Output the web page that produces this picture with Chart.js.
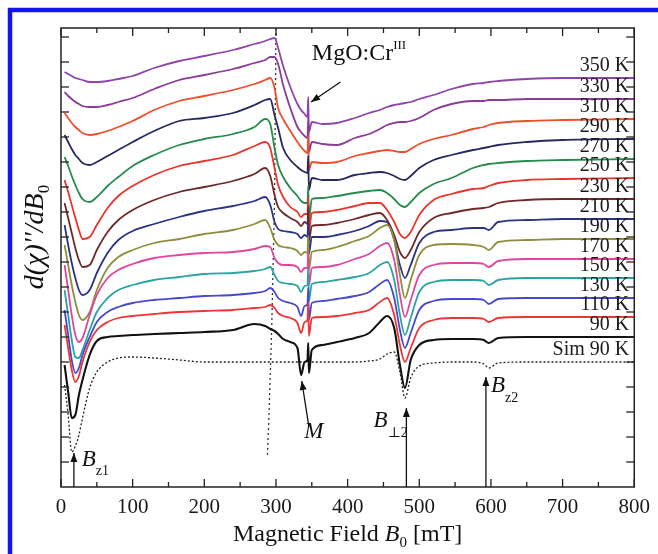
<!DOCTYPE html>
<html>
<head>
<meta charset="utf-8">
<script src="https://cdn.jsdelivr.net/npm/chart.js@4.4.1/dist/chart.umd.min.js"></script>
<style>
  html, body { margin: 0; padding: 0; background: #fff; }
  canvas { display: block; }
</style>
</head>
<body>
<canvas id="epr" width="658" height="554"></canvas>
<script>
// magnetic field grid (mT) shared by all spectra
const field = [5,10,15,20,25,30,40,50,65,80,100,130,165,200,240,270,285,292,298,303,
  310,320,330,335,340,344,345,346,350,365,385,410,430,445,455,465,473,480,488,500,
  520,545,575,590,597,610,650,700,800];

// stacked spectra, arbitrary units (already offset as plotted)
const s350 = [415,413,411,409,408,407,405,405,406,408,411,419,426,431,437,443,446,448,449,439,
  421,400,383,377,373,370,390,355,365,363,364,369,374,377,380,382,383,384,385,388,
  392,398,403,404,405,406,408,409,409];
const s330 = [395,391,388,385,383,381,380,380,382,385,389,398,407,412,418,424,427,430,430,423,
  402,379,360,355,351,349,369,335,345,343,342,349,353,358,362,364,365,365,366,369,
  377,383,386,386,387,387,388,388,388];
const s310 = [374,369,364,360,357,354,352,353,356,360,366,377,386,391,397,403,407,409,399,379,
  368,356,345,340,336,334,351,317,325,324,325,331,334,336,337,336,335,335,338,343,
  348,352,358,360,362,364,366,367,368];
const s290 = [352,345,338,332,328,324,322,325,331,337,345,356,366,369,374,382,387,388,372,359,
  339,327,320,317,315,314,331,297,309,307,307,312,314,315,314,311,308,307,311,319,
  327,332,337,339,340,342,345,347,348];
const s270 = [330,321,311,302,294,288,285,290,301,310,321,332,342,348,353,360,368,363,339,322,
  310,299,291,286,284,284,301,267,288,289,291,294,296,297,294,288,282,280,285,294,
  303,309,319,322,323,324,326,327,328];
const s250 = [307,295,282,269,257,248,250,262,279,291,301,312,321,326,332,341,345,339,319,302,
  290,280,275,270,273,273,290,256,274,275,277,281,284,284,277,265,253,249,255,272,
  287,293,298,299,301,304,307,308,309];
const s230 = [284,269,254,239,227,220,222,237,255,267,277,287,295,300,306,313,319,311,292,280,
  274,269,265,261,265,263,280,246,261,262,264,268,272,274,267,252,235,229,237,255,
  269,274,278,279,280,284,287,288,288];
const s210 = [262,242,224,209,197,192,197,214,234,247,256,263,270,276,281,286,290,282,265,258,
  256,255,253,249,252,250,267,233,250,250,252,256,261,266,265,247,222,209,222,244,
  255,257,259,259,257,265,267,268,268];
const s190 = [242,222,202,185,172,167,175,197,219,230,237,244,248,253,257,263,267,259,247,242,
  240,239,236,232,235,234,251,217,235,237,240,246,251,259,262,247,212,189,207,232,
  242,243,242,240,237,245,247,248,248];
const s170 = [222,197,172,152,145,149,172,192,209,217,223,229,232,234,235,238,241,240,229,224,
  222,222,220,215,219,219,236,202,219,220,222,228,233,241,244,227,192,170,187,212,
  222,224,224,223,220,226,228,228,228];
const s150 = [197,172,147,130,129,137,157,175,189,197,202,207,210,213,214,216,218,220,212,206,
  204,203,201,195,201,202,219,186,203,205,207,210,214,222,225,207,172,152,169,195,
  205,207,207,206,202,207,209,209,209];
const s130 = [177,152,127,114,119,132,150,165,175,180,184,187,189,191,192,194,196,199,195,189,
  186,184,180,171,181,183,199,167,184,186,188,191,195,203,207,189,157,139,154,177,
  186,188,188,187,183,188,189,189,189];
const s110 = [162,139,117,105,111,125,145,157,165,169,171,173,175,176,177,179,180,182,179,174,
  171,169,164,154,165,167,184,151,169,170,171,174,177,185,189,172,142,125,139,159,
  167,169,169,168,165,169,170,170,170];
const s90 = [122,95,69,72,92,107,132,146,150,151,152,153,154,155,157,163,161,158,156,153,
  148,145,139,112,125,127,144,114,137,142,145,149,154,165,171,159,122,99,127,142,
  147,148,148,147,144,149,150,150,150];
const sSim = [102,72,35,41,52,69,99,115,125,129,130,129,127,125,125,125,125,125,125,125,
  125,125,125,125,125,125,125,125,125,125,125,125,126,128,133,135,115,89,109,121,
  124,125,125,123,119,124,125,125,125];

// dotted guide through the ~300 mT peaks
const guideField = [300, 298, 294, 290, 288];
const guideLevel = [459, 287, 157, 67, 30];

const tempLabels = ['350 K','330 K','310 K','290 K','270 K','250 K','230 K','210 K',
  '190 K','170 K','150 K','130 K','110 K','90 K','Sim 90 K'];
const xTicks = [0,100,200,300,400,500,600,700,800];

const spectra = [s350,s330,s310,s290,s270,s250,s230,s210,s190,s170,s150,s130,s110,s90,sSim];
const colors = ['#8e44a8','#8a3c96','#ef4e2b','#26285e','#268a4c','#e8352c','#6e2a2a','#2b3484',
  '#8f8e3c','#e0479c','#2ba3a3','#4848cc','#ee3535','#111111','#222222'];

const serif = '"Liberation Serif", "DejaVu Serif", serif';

const datasets = spectra.map((s, i) => ({
  label: tempLabels[i],
  data: field.map((f, j) => ({x: f, y: s[j]})),
  borderColor: colors[i],
  borderWidth: i === 14 ? 1.3 : (i === 13 ? 2.1 : 1.8),
  borderDash: i === 14 ? [2, 2] : [],
  cubicInterpolationMode: 'monotone',
  pointRadius: 0
})).reverse();

datasets.push({
  label: 'guide',
  data: guideField.map((f, j) => ({x: f, y: guideLevel[j]})),
  borderColor: '#333',
  borderWidth: 1.3,
  borderDash: [2, 3],
  tension: 0,
  pointRadius: 0
});

function seg(ctx, x1, y1, x2, y2) {
  ctx.beginPath(); ctx.moveTo(x1, y1); ctx.lineTo(x2, y2); ctx.stroke();
}

function arrow(ctx, x1, y1, x2, y2) {
  seg(ctx, x1, y1, x2, y2);
  const a = Math.atan2(y2 - y1, x2 - x1), len = 9, half = 3.5;
  ctx.beginPath();
  ctx.moveTo(x2, y2);
  ctx.lineTo(x2 - len * Math.cos(a) + half * Math.sin(a), y2 - len * Math.sin(a) - half * Math.cos(a));
  ctx.lineTo(x2 - len * Math.cos(a) - half * Math.sin(a), y2 - len * Math.sin(a) + half * Math.cos(a));
  ctx.closePath();
  ctx.fill();
}

// draws runs of text with different fonts / vertical shifts
function rich(ctx, x, y, parts, align) {
  let w = 0;
  parts.forEach(p => { ctx.font = p.font; p.w = ctx.measureText(p.t).width; w += p.w; });
  let cx = align === 'center' ? x - w / 2 : x;
  parts.forEach(p => { ctx.font = p.font; ctx.fillText(p.t, cx, y + (p.dy || 0)); cx += p.w; });
}

const decorations = {
  id: 'decorations',
  beforeDraw(chart) {
    const c = chart.ctx;
    c.save();
    c.fillStyle = '#fff';
    c.fillRect(0, 0, chart.width, chart.height);
    c.strokeStyle = '#1414ee';
    c.lineWidth = 4.5;
    c.strokeRect(10, 10, 700, 700);
    c.restore();
  },
  afterDraw(chart) {
    const c = chart.ctx, a = chart.chartArea, x = chart.scales.x, y = chart.scales.y;
    c.save();
    c.strokeStyle = '#222';
    c.fillStyle = '#1a1a1a';
    c.lineWidth = 1.5;
    c.strokeRect(a.left, a.top, a.right - a.left, a.bottom - a.top);

    // inward ticks on all four sides
    c.lineWidth = 1.3;
    for (let v = 0; v <= 800; v += 50) {
      const px = x.getPixelForValue(v), len = v % 100 === 0 ? 8 : 5;
      seg(c, px, a.bottom, px, a.bottom - len);
      seg(c, px, a.top, px, a.top + len);
    }
    for (let v = 25; v < 459; v += 25) {
      const py = y.getPixelForValue(v);
      seg(c, a.left, py, a.left + 8, py);
      seg(c, a.right, py, a.right - 8, py);
    }

    // temperature labels just above each trace's right end
    c.textAlign = 'right';
    c.textBaseline = 'middle';
    c.font = '20px ' + serif;
    spectra.forEach((s, i) => {
      c.fillText(tempLabels[i], x.getPixelForValue(793), y.getPixelForValue(s[s.length - 1] + 12));
    });

    c.textAlign = 'left';
    c.textBaseline = 'alphabetic';
    // arrows
    c.lineWidth = 1.3;
    c.strokeStyle = '#111';
    c.fillStyle = '#111';
    const P = (f, v) => [x.getPixelForValue(f), y.getPixelForValue(v)];
    const arrows = [[18, 0, 18, 34], [482, 0, 482, 79], [593, 0, 593, 110],
      [346, 60, 336, 106], [390, 405, 349, 385]];
    arrows.forEach(r => {
      const p1 = P(r[0], r[1]), p2 = P(r[2], r[3]);
      arrow(c, p1[0], p1[1], p2[0], p2[1]);
    });

    const it = 'italic 23px ' + serif, sub = '14px ' + serif, rm = '24px ' + serif;
    let p = P(350, 427);
    rich(c, p[0], p[1], [{t: 'MgO:Cr', font: rm}, {t: 'III', font: '13px ' + serif, dy: -11}]);
    p = P(353, 49);
    rich(c, p[0], p[1], [{t: 'M', font: it}], 'center');
    p = P(29, 21);
    rich(c, p[0], p[1], [{t: 'B', font: it}, {t: 'z1', font: sub, dy: 9}]);
    p = P(436, 60);
    rich(c, p[0], p[1], [{t: 'B', font: it}, {t: '\u22a52', font: sub, dy: 10}]);
    p = P(600, 95);
    rich(c, p[0], p[1], [{t: 'B', font: it}, {t: 'z2', font: sub, dy: 10}]);

    // axis titles
    const tf = '24px ' + serif;
    rich(c, (a.left + a.right) / 2, 541, [
      {t: 'Magnetic Field ', font: tf},
      {t: 'B', font: 'italic 24px ' + serif},
      {t: '0', font: '15px ' + serif, dy: 6},
      {t: ' [mT]', font: tf}
    ], 'center');

    c.translate(43, 237);
    c.rotate(-Math.PI / 2);
    rich(c, 0, 0, [
      {t: "d(\u03c7)''/dB", font: 'italic 28px ' + serif},
      {t: '0', font: '17px ' + serif, dy: 6}
    ], 'center');
    c.restore();
  }
};

new Chart(document.getElementById('epr'), {
  type: 'line',
  data: {datasets},
  options: {
    responsive: false,
    animation: false,
    layout: {padding: {left: 61, right: 22, top: 28, bottom: 0}},
    plugins: {legend: {display: false}, tooltip: {enabled: false}},
    scales: {
      x: {
        type: 'linear',
        min: 0,
        max: 800,
        afterBuildTicks: axis => { axis.ticks = xTicks.map(v => ({value: v})); },
        ticks: {autoSkip: false, maxRotation: 0, padding: 8, color: '#1a1a1a',
          font: {family: serif, size: 21}},
        grid: {display: false, drawTicks: false},
        border: {display: false},
        afterFit: s => { s.height = 67; }
      },
      y: {display: false, min: 0, max: 459}
    }
  },
  plugins: [decorations]
});
</script>
</body>
</html>
